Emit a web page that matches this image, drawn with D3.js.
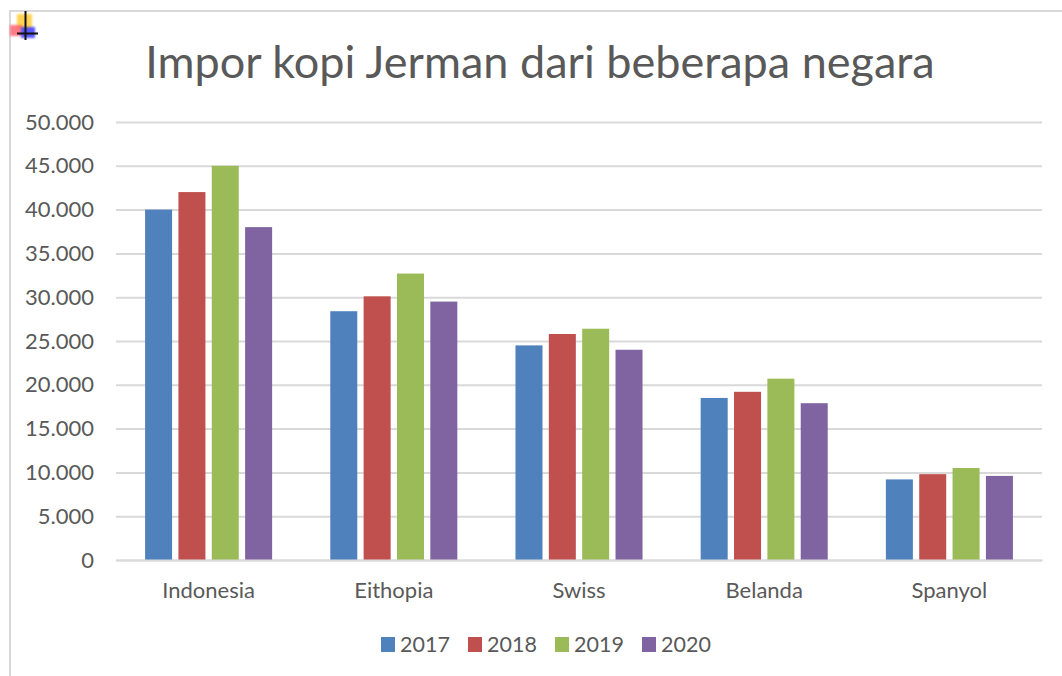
<!DOCTYPE html>
<html>
<head>
<meta charset="utf-8">
<script src="https://cdn.jsdelivr.net/npm/d3@7"></script>
<style>
html, body { margin: 0; padding: 0; background: #fff; overflow: hidden; }
text { font-family: Lato, "Open Sans", sans-serif; fill: #595959; }
</style>
</head>
<body>
<div id="chart"></div>
<script>
var width = 1062, height = 676;

var categories = ["Indonesia", "Eithopia", "Swiss", "Belanda", "Spanyol"];
var years = ["2017", "2018", "2019", "2020"];
var colors = ["#4f81bd", "#c0504d", "#9bbb59", "#8064a2"];
var values2017 = [40000, 28400, 24500, 18500, 9200];
var values2018 = [42000, 30100, 25800, 19200, 9800];
var values2019 = [45000, 32700, 26400, 20700, 10500];
var values2020 = [38000, 29500, 24000, 17900, 9600];
var series = [values2017, values2018, values2019, values2020];
var yTicks = [0, 5000, 10000, 15000, 20000, 25000, 30000, 35000, 40000, 45000, 50000];

var svg = d3.select("#chart").append("svg")
    .attr("width", width).attr("height", height)
    .style("display", "block");

var defs = svg.append("defs");
defs.append("filter").attr("id", "soft")
    .append("feGaussianBlur").attr("stdDeviation", 1.2);

// chart frame, only top and left show in the crop
svg.append("path")
    .attr("d", "M1062,11H10V676")
    .attr("fill", "none").attr("stroke", "#d9d9d9").attr("stroke-width", 2);

// little selection icon in the corner
var icon = svg.append("g");
icon.append("rect").attr("x", 17).attr("y", 14).attr("width", 15).attr("height", 15)
    .attr("fill", "#ffd040").attr("opacity", 0.9).attr("filter", "url(#soft)");
icon.append("rect").attr("x", 10).attr("y", 25).attr("width", 12).attr("height", 11)
    .attr("fill", "#ff5a6a").attr("opacity", 0.8).attr("filter", "url(#soft)");
icon.append("rect").attr("x", 21).attr("y", 27).attr("width", 14).attr("height", 11)
    .attr("fill", "#3a3aff").attr("opacity", 0.85).attr("filter", "url(#soft)");
icon.append("path").attr("d", "M25.5,11V40M17,33.5H38")
    .attr("stroke", "#111").attr("stroke-width", 2).attr("fill", "none");

svg.append("text")
    .attr("x", 540).attr("y", 78)
    .attr("text-anchor", "middle")
    .attr("font-size", 45)
    .text("Impor kopi Jerman dari beberapa negara");

var x = d3.scaleBand().domain(categories).range([116, 1042]).paddingInner(0.314).paddingOuter(0.157);
var xInner = d3.scaleBand().domain(years).range([0, x.bandwidth()]).paddingInner(0.19);
var y = d3.scaleLinear().domain([0, 50000]).range([560, 122]);

var fmt = d3.format(",.0f");

var yAxis = d3.axisLeft(y)
    .tickValues(yTicks)
    .tickSize(-926)
    .tickPadding(22)
    .tickFormat(function(d) { return fmt(d).replace(/,/g, "."); });

var yG = svg.append("g").attr("transform", "translate(116,0)").call(yAxis);
yG.select(".domain").remove();
yG.selectAll("line").attr("stroke", "#d9d9d9").attr("stroke-width", 2);
yG.selectAll("text").attr("font-size", 22).attr("font-family", null).style("fill", "#595959");

years.forEach(function(yr, s) {
    svg.append("g").selectAll("rect")
        .data(series[s])
        .enter().append("rect")
        .attr("x", function(d, i) { return x(categories[i]) + xInner(yr); })
        .attr("width", xInner.bandwidth())
        .attr("y", function(d) { return y(d); })
        .attr("height", function(d) { return y(0) - y(d); })
        .attr("fill", colors[s]);
});

var xAxis = d3.axisBottom(x).tickSize(0).tickPadding(22);
var xG = svg.append("g").attr("transform", "translate(0,560)").call(xAxis);
xG.select(".domain").attr("stroke", "#d9d9d9").attr("stroke-width", 2);
xG.selectAll("text").attr("font-size", 22).attr("font-family", null).style("fill", "#595959");

// legend
var legendX = d3.scalePoint().domain(years).range([381, 642]);
var legend = svg.append("g").selectAll("g")
    .data(years).enter().append("g")
    .attr("transform", function(d) { return "translate(" + legendX(d) + ",0)"; });
legend.append("rect")
    .attr("y", 637).attr("width", 14).attr("height", 15)
    .attr("fill", function(d, i) { return colors[i]; });
legend.append("text")
    .attr("x", 19).attr("y", 652)
    .attr("font-size", 21.5)
    .text(function(d) { return d; });
</script>
</body>
</html>
